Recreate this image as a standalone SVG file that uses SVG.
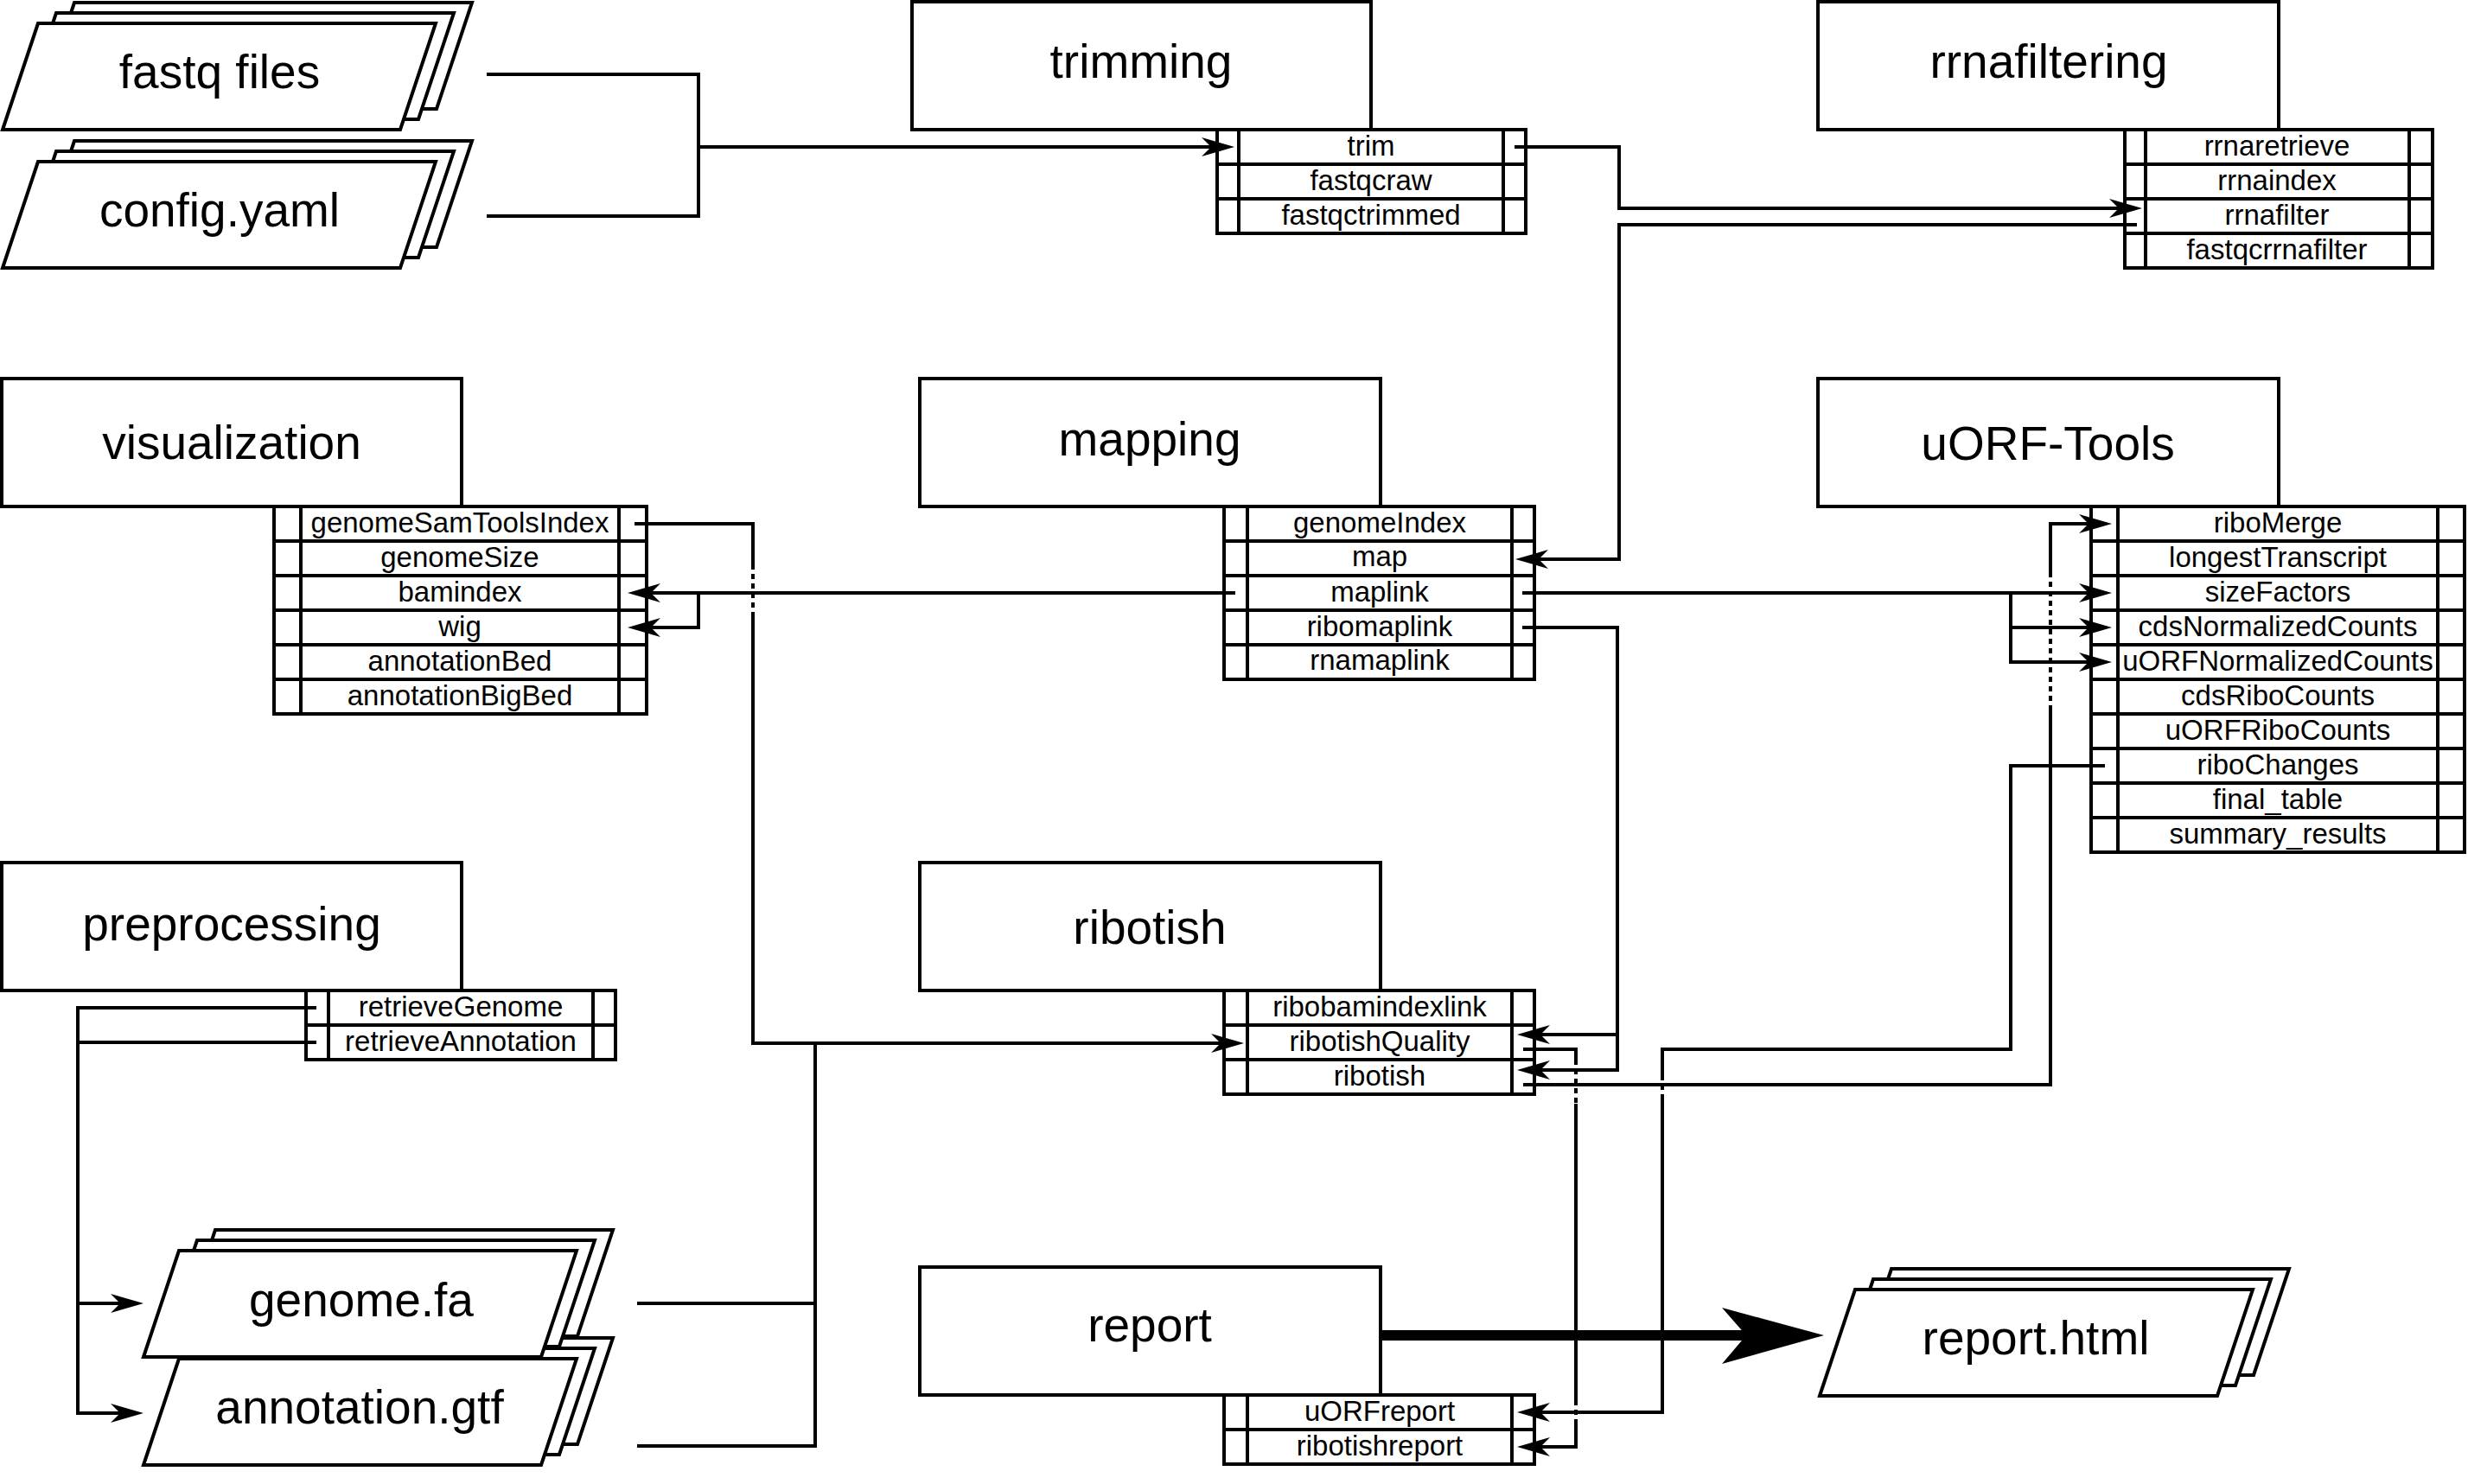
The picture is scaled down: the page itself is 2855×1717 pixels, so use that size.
<svg xmlns="http://www.w3.org/2000/svg" xmlns:xlink="http://www.w3.org/1999/xlink" width="2855" height="1717" viewBox="0 0 2855 1717">
<style>
.b{fill:#fff;stroke:#000;stroke-width:4}
.l{fill:none;stroke:#000;stroke-width:4}
.d{fill:none;stroke:#000;stroke-width:4;stroke-dasharray:6 5}
.big{font-family:"Liberation Sans",Arial,sans-serif;font-size:55px;text-anchor:middle;fill:#000}
.sm{font-family:"Liberation Sans",Arial,sans-serif;font-size:33px;text-anchor:middle;fill:#000}
</style>
<defs>
<path id="doc" d="M0,0 L41,-123 L501,-123 L460,0 Z"/>
<marker id="a" viewBox="0 0 38 22" markerWidth="38" markerHeight="22" refX="11" refY="11" orient="auto" markerUnits="userSpaceOnUse"><path d="M0,0 L38,11 L0,22 L11,11 Z" fill="#000"/></marker>
</defs>
<rect width="2855" height="1717" fill="#fff"/>

<g id="fastq">
<use href="#doc" x="45" y="126" class="b"/><use href="#doc" x="24" y="138" class="b"/><use href="#doc" x="3" y="150" class="b"/>
<text class="big" x="254" y="102">fastq files</text>
</g>
<g id="config">
<use href="#doc" x="45" y="286" class="b"/><use href="#doc" x="24" y="298" class="b"/><use href="#doc" x="3" y="310" class="b"/>
<text class="big" x="254" y="262">config.yaml</text>
</g>

<g id="trimming">
<rect class="b" x="1055" y="2" width="531" height="148"/>
<text class="big" x="1320" y="90">trimming</text>
<rect class="b" x="1408" y="150" width="357" height="120"/>
<path class="l" d="M1433,150V270M1739,150V270M1408,190H1765M1408,230H1765"/>
<text class="sm" x="1586" y="180">trim</text>
<text class="sm" x="1586" y="220">fastqcraw</text>
<text class="sm" x="1586" y="260">fastqctrimmed</text>
</g>

<g id="rrnafiltering">
<rect class="b" x="2103" y="2" width="533" height="148"/>
<text class="big" x="2370" y="90">rrnafiltering</text>
<rect class="b" x="2458" y="150" width="356" height="160"/>
<path class="l" d="M2482,150V310M2787,150V310M2458,190H2814M2458,230H2814M2458,270H2814"/>
<text class="sm" x="2634" y="180">rrnaretrieve</text>
<text class="sm" x="2634" y="220">rrnaindex</text>
<text class="sm" x="2634" y="260">rrnafilter</text>
<text class="sm" x="2634" y="300">fastqcrrnafilter</text>
</g>

<g id="visualization">
<rect class="b" x="2" y="438" width="532" height="148"/>
<text class="big" x="268" y="531">visualization</text>
<rect class="b" x="317" y="586" width="431" height="240"/>
<path class="l" d="M348,586V826M716,586V826M317,626H748M317,666H748M317,706H748M317,746H748M317,786H748"/>
<text class="sm" x="532" y="616">genomeSamToolsIndex</text>
<text class="sm" x="532" y="656">genomeSize</text>
<text class="sm" x="532" y="696">bamindex</text>
<text class="sm" x="532" y="736">wig</text>
<text class="sm" x="532" y="776">annotationBed</text>
<text class="sm" x="532" y="816">annotationBigBed</text>
</g>

<g id="mapping">
<rect class="b" x="1064" y="438" width="533" height="148"/>
<text class="big" x="1330" y="527">mapping</text>
<rect class="b" x="1416" y="586" width="359" height="200"/>
<path class="l" d="M1443,586V786M1749,586V786M1416,626H1775M1416,666H1775M1416,706H1775M1416,746H1775"/>
<text class="sm" x="1596" y="616">genomeIndex</text>
<text class="sm" x="1596" y="655">map</text>
<text class="sm" x="1596" y="696">maplink</text>
<text class="sm" x="1596" y="736">ribomaplink</text>
<text class="sm" x="1596" y="775">rnamaplink</text>
</g>

<g id="uorftools">
<rect class="b" x="2103" y="438" width="533" height="148"/>
<text class="big" x="2369" y="532">uORF-Tools</text>
<rect class="b" x="2419" y="586" width="432" height="400"/>
<path class="l" d="M2450,586V986M2820,586V986M2419,626H2851M2419,666H2851M2419,706H2851M2419,746H2851M2419,786H2851M2419,826H2851M2419,866H2851M2419,906H2851M2419,946H2851"/>
<text class="sm" x="2635" y="616">riboMerge</text>
<text class="sm" x="2635" y="656">longestTranscript</text>
<text class="sm" x="2635" y="696">sizeFactors</text>
<text class="sm" x="2635" y="736">cdsNormalizedCounts</text>
<text class="sm" x="2635" y="776">uORFNormalizedCounts</text>
<text class="sm" x="2635" y="816">cdsRiboCounts</text>
<text class="sm" x="2635" y="856">uORFRiboCounts</text>
<text class="sm" x="2635" y="896">riboChanges</text>
<text class="sm" x="2635" y="936">final_table</text>
<text class="sm" x="2635" y="976">summary_results</text>
</g>

<g id="preprocessing">
<rect class="b" x="2" y="998" width="532" height="148"/>
<text class="big" x="268" y="1088">preprocessing</text>
<rect class="b" x="354" y="1146" width="358" height="80"/>
<path class="l" d="M380,1146V1226M686,1146V1226M354,1186H712"/>
<text class="sm" x="533" y="1176">retrieveGenome</text>
<text class="sm" x="533" y="1216">retrieveAnnotation</text>
</g>

<g id="ribotish">
<rect class="b" x="1064" y="998" width="533" height="148"/>
<text class="big" x="1330" y="1092">ribotish</text>
<rect class="b" x="1416" y="1146" width="359" height="120"/>
<path class="l" d="M1443,1146V1266M1749,1146V1266M1416,1186H1775M1416,1226H1775"/>
<text class="sm" x="1596" y="1176">ribobamindexlink</text>
<text class="sm" x="1596" y="1216">ribotishQuality</text>
<text class="sm" x="1596" y="1256">ribotish</text>
</g>

<g id="annotation">
<use href="#doc" x="208" y="1671" class="b"/><use href="#doc" x="187" y="1683" class="b"/><use href="#doc" x="166" y="1695" class="b"/>
<text class="big" x="416" y="1647">annotation.gtf</text>
</g>
<g id="genome">
<use href="#doc" x="208" y="1546" class="b"/><use href="#doc" x="187" y="1558" class="b"/><use href="#doc" x="166" y="1570" class="b"/>
<text class="big" x="418" y="1523">genome.fa</text>
</g>

<g id="report">
<rect class="b" x="1064" y="1466" width="533" height="148"/>
<text class="big" x="1330" y="1552">report</text>
<rect class="b" x="1416" y="1614" width="359" height="80"/>
<path class="l" d="M1443,1614V1694M1749,1614V1694M1416,1654H1775"/>
<text class="sm" x="1596" y="1644">uORFreport</text>
<text class="sm" x="1596" y="1684">ribotishreport</text>
</g>

<g id="reporthtml">
<use href="#doc" x="2147" y="1591" class="b"/><use href="#doc" x="2126" y="1603" class="b"/><use href="#doc" x="2105" y="1615" class="b"/>
<text class="big" x="2355" y="1567">report.html</text>
</g>

<g id="connectors">
<path class="l" d="M563,86H808V250H563"/>
<path class="l" d="M808,170H1401" marker-end="url(#a)"/>
<path class="l" d="M1752,170H1873V241H2451" marker-end="url(#a)"/>
<path class="l" d="M2472,260H1873V647H1780" marker-end="url(#a)"/>
<path class="l" d="M1429,686H753" marker-end="url(#a)"/>
<path class="l" d="M808,686V726H753" marker-end="url(#a)"/>
<path class="l" d="M1761,686H2416" marker-end="url(#a)"/>
<path class="l" d="M2326,686V766H2416" marker-end="url(#a)"/>
<path class="l" d="M2326,726H2416" marker-end="url(#a)"/>
<path class="l" d="M734,606H871V653"/>
<path class="d" d="M871,653V710"/>
<path class="l" d="M871,710V1207H1412" marker-end="url(#a)"/>
<path class="l" d="M737,1508H943M737,1673H943V1207"/>
<path class="l" d="M366,1166H90V1635H139" marker-end="url(#a)"/>
<path class="l" d="M366,1206H90"/>
<path class="l" d="M90,1508H139" marker-end="url(#a)"/>
<path class="l" d="M1761,726H1871V1238H1782" marker-end="url(#a)"/>
<path class="l" d="M1871,1197H1782" marker-end="url(#a)"/>
<path class="l" d="M1762,1214H1823V1226"/>
<path class="d" d="M1823,1226V1277"/>
<path class="l" d="M1823,1277V1620"/>
<path class="d" d="M1823,1620V1647"/>
<path class="l" d="M1823,1647V1674H1782" marker-end="url(#a)"/>
<path class="l" d="M1762,1255H2372V822"/>
<path class="d" d="M2372,822V665"/>
<path class="l" d="M2372,665V606H2416" marker-end="url(#a)"/>
<path class="l" d="M2435,886H2326V1214H1923V1244"/>
<path class="d" d="M1923,1244V1271"/>
<path class="l" d="M1923,1271V1634H1782" marker-end="url(#a)"/>
<path d="M1597,1545H2025" fill="none" stroke="#000" stroke-width="12"/>
<path d="M2110,1545 L1992,1513 L2020,1545 L1992,1578 Z" fill="#000"/>
</g>
</svg>
